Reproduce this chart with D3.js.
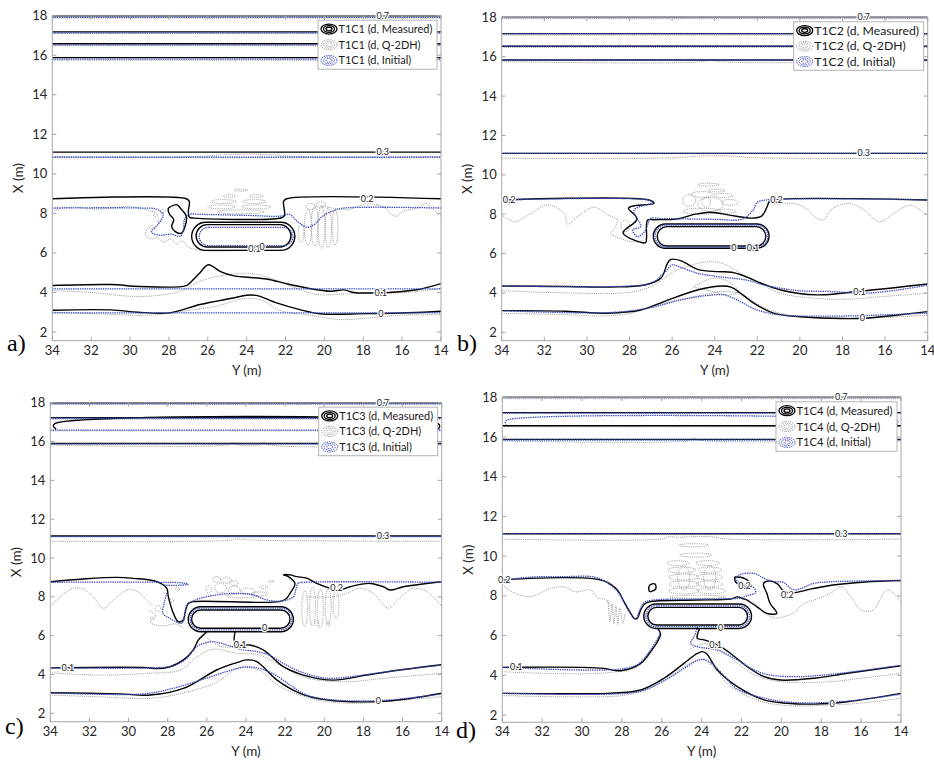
<!DOCTYPE html>
<html>
<head>
<meta charset="utf-8">
<script src="https://cdn.jsdelivr.net/npm/d3@7"></script>
<style>
  body { margin: 0; background: #fff; }
  svg { display: block; }
</style>
</head>
<body>
<script>
// axis ticks and names
const yTicks = [34, 32, 30, 28, 26, 24, 22, 20, 18, 16, 14];
const xTicks = [2, 4, 6, 8, 10, 12, 14, 16, 18];
const caseNames = ['T1C1', 'T1C2', 'T1C3', 'T1C4'];
const panelTags = ['a)', 'b)', 'c)', 'd)'];
const seriesNames = ['Measured', 'Q-2DH', 'Initial'];

// ---- panel a (T1C1) : contour lines as [Y, X] points ----
const measA = [
  [[34, 18], [14, 18]], [[34, 17.18], [14, 17.18]], [[34, 16.58], [14, 16.58]], [[34, 15.88], [14, 15.88]],
  [[34, 11.1], [14, 11.1]],
  [[34, 8.74], [27.1, 8.74], [26.95, 8.6], [27.0, 8.1], [26.95, 7.8], [26.7, 7.76], [22.2, 7.78], [22.05, 7.9], [22.1, 8.6], [21.95, 8.74], [14, 8.74]],
  [[28.03, 8.27], [27.6, 8.44], [27.35, 8.19], [27.1, 7.85], [27.17, 7.34], [27.35, 7.0], [27.69, 7.09], [27.86, 7.34], [27.75, 7.68], [27.95, 7.93], [28.03, 8.1], [28.03, 8.27]],
  [[34, 4.35], [31.0, 4.4], [29.5, 4.3], [27.1, 4.35], [26.83, 4.57], [26.4, 5.0], [25.97, 5.4], [25.37, 5.07], [24.7, 4.85], [22.97, 4.68], [21.77, 4.4], [19.71, 4.06], [19.0, 4.13], [18.5, 4.0], [17.31, 3.98], [15.25, 4.14], [14, 4.45]],
  [[34, 3.1], [31.0, 3.12], [29.6, 3.0], [27.95, 2.97], [26.4, 3.39], [24.69, 3.72], [24.0, 3.86], [23.5, 3.85], [22.46, 3.47], [21.26, 3.13], [20.23, 2.92], [17.83, 2.93], [16.1, 2.96], [14, 3.05]]
];
const initA = [
  [[34, 17.92], [14, 17.92]], [[34, 17.13], [14, 17.13]], [[34, 16.52], [14, 16.52]], [[34, 15.8], [14, 15.8]],
  [[34, 10.84], [14, 10.84]],
  [[34, 8.27], [29.5, 8.27], [28.6, 8.2], [28.3, 7.9], [28.6, 7.4], [28.9, 7.05], [28.5, 6.9], [27.9, 6.95], [27.4, 6.85], [27.25, 7.2], [27.2, 7.7], [27.0, 7.95], [26.5, 7.95], [24, 7.9], [22.3, 7.86], [21.8, 7.95], [21.4, 7.6], [20.9, 7.3], [20.5, 7.45], [20.1, 7.85], [19.5, 8.15], [19.0, 8.27], [14, 8.27]],
  [[34, 4.18], [14, 4.18]],
  [[34, 2.97], [14, 2.97]]
];
const q2dhA = [
  [[34, 17.88], [14, 17.88]], [[34, 17.1], [14, 17.1]], [[34, 16.48], [14, 16.48]], [[34, 15.75], [14, 15.75]],
  [[34, 10.87], [26.5, 10.87], [25.5, 10.95], [24, 11.0], [22.5, 10.95], [21.5, 10.87], [14, 10.87]],
  [[34, 8.1], [33.2, 8.3], [31.5, 8.22], [30, 8.35], [29.2, 8.2], [28.7, 8.05]],
  [[20.2, 8.4], [18.85, 8.19], [17.83, 8.47], [16.97, 8.35], [16.6, 8.0], [16.3, 7.85], [15.95, 8.1], [15.3, 8.25], [14.74, 8.5], [14.4, 8.2], [14, 7.85]],
  [[29.1, 7.25], [29.2, 6.9], [28.9, 6.7], [28.6, 6.8], [28.3, 6.55], [27.9, 6.7], [27.6, 6.45], [27.3, 6.6], [27.0, 6.3], [26.5, 6.15], [25.0, 6.1], [23.5, 6.2]],
  [[34, 4.1], [32, 4.0], [29.8, 3.8], [28.3, 3.88], [27.3, 4.1], [26.3, 4.6], [25.0, 4.9], [23.7, 4.95], [22.7, 4.7], [21.7, 4.3], [20.4, 3.9], [19.5, 3.9], [17.8, 3.97], [16.1, 3.98], [14, 4.2]],
  [[34, 3.0], [31.6, 2.92], [29.0, 2.85], [27.3, 3.05], [25.6, 3.3], [24.0, 3.7], [23.2, 3.6], [22.3, 3.1], [20.4, 2.8], [19.2, 2.63], [17.8, 2.7], [16.1, 2.85], [14, 2.87]]
];
const ringsA = [[26.83, 21.52, 6.13, 7.55, 'meas'], [26.6, 21.72, 6.3, 7.43, 'meas'], [26.44, 21.62, 6.37, 7.29, 'init']];
const blobsA = [
  [24.3, 9.18, 0.35, 0.05], [24.9, 8.88, 0.3, 0.07], [23.5, 8.88, 0.35, 0.07], [25.2, 8.6, 0.65, 0.1], [23.6, 8.6, 0.6, 0.1],
  [25.3, 8.33, 0.7, 0.1], [23.5, 8.33, 0.75, 0.1], [24.3, 8.08, 1.2, 0.1],
  [21.2, 7.0, 0.15, 0.45], [20.85, 7.3, 0.18, 0.9], [20.5, 7.35, 0.18, 1.0], [20.15, 7.3, 0.18, 1.05], [19.8, 7.3, 0.16, 1.0], [19.45, 7.3, 0.15, 0.9],
  [20.7, 8.35, 0.25, 0.15], [20.2, 8.45, 0.25, 0.15],
  [28.5, 7.6, 0.1, 0.08], [28.7, 7.9, 0.1, 0.08], [28.3, 8.1, 0.12, 0.1], [28.9, 7.3, 0.1, 0.1]
];
const labelsA = [['0.7', 17.0, 18.0], ['0.3', 17.0, 11.1], ['0.2', 17.8, 8.74], ['0.1', 17.1, 3.98], ['0', 17.1, 2.93], ['0.1', 23.6, 6.2], ['0', 23.2, 6.33]];

// ---- panel b (T1C2) ----
const measB = [
  [[34, 18], [14, 18]], [[34, 17.17], [14, 17.17]], [[34, 16.53], [14, 16.53]], [[34, 15.83], [14, 15.83]],
  [[34, 11.09], [14, 11.09]],
  [[34, 8.72], [27.1, 8.72], [26.85, 8.55], [27.9, 8.4], [28.05, 8.3], [27.65, 7.75], [28.3, 7.05], [27.25, 6.55], [27.2, 6.8], [27.15, 7.7], [26.8, 7.72], [25.8, 7.75], [24.9, 8.0], [24.2, 8.1], [23.3, 7.95], [22.3, 7.8], [21.8, 7.9], [21.55, 8.35], [21.45, 8.62], [21.3, 8.72], [14, 8.72]],
  [[34, 4.35], [31, 4.33], [28.9, 4.3], [27.3, 4.4], [26.53, 4.74], [26.22, 5.5], [26.06, 5.7], [25.6, 5.64], [24.8, 5.2], [23.87, 5.08], [23.2, 5.05], [22.47, 4.8], [22.0, 4.57], [20.9, 4.15], [19.18, 3.9], [17.3, 4.07], [14, 4.45]],
  [[34, 3.1], [31, 3.07], [29.04, 2.97], [27.47, 3.13], [26.38, 3.56], [24.81, 4.15], [23.64, 4.35], [23.2, 4.28], [22.78, 3.98], [22.15, 3.47], [21.2, 2.96], [20.12, 2.8], [18.55, 2.71], [17.0, 2.71], [15.4, 2.88], [14, 3.05]]
];
const initB = [
  [[34, 17.98], [14, 17.98]], [[34, 17.17], [14, 17.17]], [[34, 16.53], [14, 16.53]], [[34, 15.83], [14, 15.83]],
  [[34, 11.09], [14, 11.09]],
  [[34, 8.72], [27.1, 8.72], [26.9, 8.6], [27.79, 8.2], [27.47, 7.37], [27.86, 7.2], [27.63, 6.86], [27.3, 7.1], [27.1, 7.6], [27.0, 7.79], [26.5, 7.78], [24, 7.74], [22.7, 7.75], [22.2, 8.2], [22.0, 8.6], [21.6, 8.72], [14, 8.72]],
  [[34, 4.35], [28, 4.35], [27.0, 4.49], [26.38, 5.0], [25.99, 5.42], [25.6, 5.3], [24.81, 5.0], [23.56, 4.79], [22.5, 4.65], [21.68, 4.4], [20.12, 4.12], [18.5, 4.07], [16.99, 3.98], [15.4, 4.15], [14, 4.4]],
  [[34, 3.1], [29.0, 3.0], [27.16, 3.22], [25.6, 3.64], [24.5, 3.85], [23.56, 3.9], [22.94, 3.64], [22.0, 3.13], [20.9, 2.88], [18.5, 2.82], [16.2, 2.88], [14, 2.98]]
];
const q2dhB = [
  [[34, 17.93], [14, 17.93]], [[34, 17.1], [14, 17.1]], [[34, 16.47], [14, 16.47]],
  [[34, 15.75], [24.5, 15.75], [24.2, 15.85], [23.8, 15.75], [14, 15.75]],
  [[34, 10.84], [26, 10.86], [24.5, 10.97], [23.2, 10.95], [22, 10.86], [14, 10.84]],
  [[34, 7.96], [33.4, 7.62], [32.64, 8.04], [31.86, 8.47], [31.07, 8.04], [30.9, 7.5], [30.4, 7.9], [29.67, 8.35], [29.0, 7.95], [28.57, 7.71], [28.7, 7.3], [28.88, 7.03], [28.41, 6.77], [27.9, 6.6], [27.4, 6.65]],
  [[21.3, 8.55], [20.1, 8.5], [19.6, 8.2], [19.34, 7.88], [18.87, 7.71], [18.55, 8.21], [17.77, 8.55], [16.99, 8.21], [16.28, 7.62], [15.58, 8.04], [14.8, 8.47], [14, 7.88]],
  [[34, 4.12], [31, 4.0], [28, 4.03], [27.0, 4.32], [26.3, 4.8], [25.75, 5.17], [24.8, 5.5], [24.03, 5.59], [23.4, 5.4], [22.8, 5.0], [22.0, 4.55], [20.9, 3.98], [19.34, 3.73], [17.77, 3.68], [16.2, 3.81], [14, 3.98]],
  [[25.0, 4.3], [24.5, 4.6], [24.0, 4.75], [23.4, 4.6], [22.9, 4.1], [23.3, 3.9], [24.2, 4.1], [25.0, 4.3]],
  [[34, 2.96], [31, 2.9], [29.5, 2.83], [28, 2.95], [27.0, 3.3], [25.75, 3.64], [24.5, 3.9], [23.72, 4.07], [22.8, 3.97], [22.15, 3.56], [21.6, 3.2], [20.12, 2.8], [18.5, 2.72], [16.2, 2.75], [14, 2.88]]
];
const ringsB = [[26.88, 21.45, 6.27, 7.5, 'meas'], [26.7, 21.6, 6.38, 7.37, 'meas'], [26.8, 21.5, 6.33, 7.45, 'init']];
const blobsB = [
  [24.3, 9.5, 0.5, 0.07], [23.9, 9.2, 0.4, 0.07], [24.6, 9.0, 0.5, 0.15], [23.6, 8.95, 0.45, 0.1], [25.2, 8.7, 0.3, 0.3],
  [24.2, 8.5, 0.6, 0.35], [23.3, 8.6, 0.4, 0.15], [24.6, 8.15, 0.9, 0.15], [23.5, 8.15, 0.5, 0.1], [24.4, 8.6, 0.2, 0.25],
  [28.2, 7.4, 0.2, 0.3]
];
const labelsB = [['0.7', 17.0, 18], ['0.3', 17.0, 11.09], ['0.2', 33.65, 8.72], ['0.2', 21.1, 8.72], ['0.1', 17.2, 4.07], ['0', 17.07, 2.71], ['0', 23.1, 6.3], ['0.1', 22.2, 6.27]];

// ---- panel c (T1C3) ----
const measC = [
  [[34, 18], [14, 18]], [[34, 17.23], [14, 17.23]],
  [[14.2, 16.62], [14.1, 16.78], [14.2, 16.94], [33.75, 16.94], [33.85, 16.8], [33.7, 16.64]],
  [[34, 15.9], [14, 15.9]], [[34, 11.13], [14, 11.13]],
  [[34, 8.78], [32.31, 8.92], [30.61, 9.0], [29.76, 8.95], [28.56, 8.78], [28.05, 8.44], [27.97, 8.01], [27.71, 7.15], [27.46, 6.72], [27.2, 6.81], [27.12, 7.15], [26.95, 7.66], [26.7, 7.75], [22.3, 7.75], [21.95, 7.9], [21.75, 8.18], [21.5, 8.69], [21.84, 9.04], [22.09, 9.13], [21.75, 9.13], [21.41, 9.04], [20.9, 8.96], [20.39, 8.69], [19.7, 8.44], [19.2, 8.35], [18.69, 8.52], [17.66, 8.69], [16.98, 8.52], [16.64, 8.35], [15.96, 8.52], [14, 8.78]],
  [[34, 4.34], [29, 4.35], [28.6, 4.3], [27.88, 4.4], [27.2, 4.75], [26.69, 5.27], [26.44, 5.77], [26.18, 6.03], [26.0, 6.2]],
  [[24.56, 6.2], [24.6, 5.77], [24.48, 5.52], [23.8, 5.52], [23.12, 5.27], [22.09, 4.4], [21.07, 3.97], [19.54, 3.71], [17.83, 3.97], [16.13, 4.23], [14, 4.5]],
  [[34, 3.06], [30.5, 3.0], [28.9, 2.94], [27.2, 3.28], [25.5, 4.23], [24.5, 4.6], [23.96, 4.75], [23.45, 4.66], [22.43, 3.72], [21.24, 3.03], [19.88, 2.69], [17.32, 2.6], [15.5, 2.78], [14, 3.03]]
];
const initC = [
  [[34, 17.95], [14, 17.95]], [[34, 17.2], [14, 17.2]], [[34, 16.59], [14, 16.59]], [[34, 15.88], [14, 15.88]],
  [[34, 11.1], [14, 11.1]],
  [[34, 8.75], [28.4, 8.75], [27.3, 8.72], [26.95, 8.65], [27.3, 8.6], [28.2, 8.6]],
  [[28.05, 8.2], [28.2, 7.6], [28.25, 7.15], [27.9, 6.9], [27.29, 6.63], [27.15, 6.9], [27.1, 7.3], [27.0, 7.6], [26.35, 7.92], [24.65, 8.18], [23.63, 8.09], [22.94, 7.84], [22.2, 7.78], [21.58, 8.0], [21.45, 8.4], [21.33, 8.7], [21.0, 8.75], [14, 8.75]],
  [[34, 4.34], [28.6, 4.35], [27.7, 4.45], [27.03, 4.83], [26.52, 5.43], [26.18, 5.6], [25.67, 5.69], [24.99, 5.52], [24.31, 5.3], [23.45, 5.18], [22.8, 5.0], [22.09, 4.57], [21.24, 4.15], [20.2, 3.85], [19.54, 3.8], [17.8, 4.0], [16, 4.25], [14, 4.48]],
  [[34, 3.06], [29.25, 3.0], [27.71, 3.29], [26.3, 3.72], [24.99, 4.15], [24.14, 4.37], [23.5, 4.35], [22.6, 4.03], [21.75, 3.46], [20.9, 2.94], [19.54, 2.69], [17.3, 2.65], [15.5, 2.8], [14, 3.0]]
];
const q2dhC = [
  [[34, 17.9], [14, 17.9]], [[34, 17.15], [14, 17.15]], [[34, 16.55], [14, 16.55]],
  [[34, 15.82], [25, 15.82], [24.6, 15.95], [24.3, 15.82], [23.3, 15.82], [23.1, 15.97], [22.8, 15.82], [14, 15.82]],
  [[34, 10.86], [25, 10.9], [24.5, 10.98], [23.5, 10.92], [14, 10.86]],
  [[34, 7.49], [33.5, 8.0], [32.82, 8.44], [32.3, 8.4], [31.8, 8.0], [31.29, 7.41], [30.8, 7.8], [30.1, 8.35], [29.6, 8.3], [29.08, 7.84], [28.8, 7.55]],
  [[20.9, 8.0], [19.54, 8.0], [18.86, 8.18], [18.17, 8.44], [17.49, 8.18], [16.72, 7.41], [16.2, 7.9], [15.45, 8.44], [14.8, 8.3], [14, 7.52]],
  [[29.0, 7.3], [28.6, 7.0], [28.9, 6.7], [28.3, 6.5], [27.6, 6.6], [27.2, 6.4]],
  [[26.0, 5.9], [25.6, 5.6], [25.0, 5.4], [24.4, 5.6], [24.0, 5.8]],
  [[34, 4.09], [31.5, 3.97], [29.0, 4.06], [27.37, 4.23], [26.5, 4.9], [25.7, 5.3], [24.5, 5.1], [23.3, 5.0], [22.3, 4.5], [21.3, 3.97], [20.39, 3.72], [18.68, 3.63], [16.98, 3.8], [14, 4.06]],
  [[34, 2.94], [31.5, 2.85], [28.9, 2.77], [27.2, 3.05], [25.5, 3.6], [24.5, 4.3], [24.0, 4.4], [23.3, 4.2], [22.3, 3.4], [20.39, 2.69], [18.68, 2.52], [16.98, 2.6], [14, 2.86]]
];
const ringsC = [[26.95, 21.58, 6.2, 7.49, 'meas'], [26.78, 21.75, 6.38, 7.32, 'meas'], [26.85, 21.65, 6.3, 7.42, 'init']];
const blobsC = [
  [25.5, 8.9, 0.2, 0.15], [25.0, 8.85, 0.25, 0.15], [24.6, 8.7, 0.2, 0.12], [25.3, 8.45, 0.3, 0.25], [24.6, 8.35, 0.3, 0.2],
  [23.9, 8.3, 0.35, 0.15], [23.1, 8.5, 0.2, 0.08], [23.3, 8.15, 0.4, 0.1], [25.9, 8.4, 0.15, 0.2], [22.7, 8.8, 0.15, 0.05], [24.2, 8.05, 0.8, 0.1],
  [21.0, 7.4, 0.15, 0.9], [20.6, 7.5, 0.15, 1.0], [20.2, 7.4, 0.15, 1.0], [19.8, 7.5, 0.15, 0.9], [19.4, 7.6, 0.15, 0.7], [20.4, 6.65, 0.08, 0.15], [19.8, 6.6, 0.08, 0.12],
  [28.5, 7.4, 0.15, 0.15], [27.8, 7.8, 0.1, 0.1], [28.8, 6.9, 0.08, 0.08], [27.5, 8.4, 0.1, 0.1]
];
const labelsC = [['0.7', 17.0, 18], ['0.3', 17.0, 11.13], ['0.2', 19.37, 8.45], ['0.1', 33.1, 4.35], ['0.1', 24.3, 5.52], ['0', 17.24, 2.62], ['0', 23.05, 6.4]];

// ---- panel d (T1C4) ----
const measD = [
  [[34, 18], [14, 18]], [[34, 17.23], [14, 17.23]], [[34, 16.57], [14, 16.57]], [[34, 15.88], [14, 15.88]],
  [[34, 11.13], [14, 11.13]],
  [[34, 8.8], [32.6, 8.88], [30.9, 8.92], [29.57, 8.88], [28.9, 8.75], [28.23, 8.3], [27.9, 7.71], [27.56, 7.12], [27.39, 6.87], [27.23, 6.87], [27.06, 7.29], [26.85, 7.6], [26.5, 7.72], [24.22, 7.79], [22.55, 7.84], [22.2, 7.95], [21.9, 7.85], [21.74, 7.8], [21.24, 7.46], [20.73, 7.12], [20.23, 7.12], [20.57, 7.63], [20.73, 8.13], [20.9, 8.6], [20.65, 8.75], [20.2, 8.6], [19.9, 8.25], [19.57, 8.13], [18.5, 8.35], [17.4, 8.55], [15.8, 8.7], [14, 8.77]],
  [[22.35, 8.95], [21.9, 8.9], [21.55, 8.6], [21.6, 8.35], [21.9, 8.5], [22.3, 8.7], [22.35, 8.95]],
  [[26.6, 8.2], [26.3, 8.35], [26.35, 8.6], [26.6, 8.55], [26.65, 8.3], [26.6, 8.2]],
  [[34, 4.4], [30, 4.4], [28.9, 4.35], [28.06, 4.23], [27.06, 4.6], [26.56, 5.19], [26.22, 5.69], [26.06, 6.08], [26.2, 6.36]],
  [[24.1, 6.36], [24.2, 6.1], [24.22, 5.86], [23.88, 5.78], [23.21, 5.53], [22.55, 5.1], [21.71, 4.43], [20.87, 3.93], [20.04, 3.76], [18.36, 3.85], [16.69, 4.1], [14, 4.48]],
  [[34, 3.09], [30.9, 3.07], [28.73, 3.09], [27.06, 3.26], [25.89, 3.85], [24.89, 4.6], [24.22, 5.1], [23.97, 5.19], [23.75, 5.08], [23.21, 4.27], [22.21, 3.43], [20.87, 2.76], [19.7, 2.59], [18.36, 2.55], [16.69, 2.67], [14, 3.09]]
];
const initD = [
  [[34, 17.98], [14, 17.98]], [[34, 17.2], [14, 17.2]],
  [[14.2, 16.62], [14.15, 16.8], [14.3, 16.86], [33.75, 16.86], [33.85, 16.75], [33.8, 16.62]],
  [[34, 15.85], [14, 15.85]], [[34, 11.13], [14, 11.13]],
  [[34, 8.8], [32.5, 8.95], [30.9, 8.97], [29.4, 8.95], [28.8, 8.7], [28.2, 8.2], [27.8, 7.5], [27.5, 7.0], [27.3, 6.85], [27.1, 7.3], [26.9, 7.65], [26.5, 7.78], [24, 7.84], [22.5, 7.86], [22.0, 7.9], [21.6, 8.05], [21.3, 8.13], [21.37, 8.4], [21.9, 8.6], [22.3, 8.85], [22.13, 9.05], [21.37, 9.13], [20.87, 8.88], [20.37, 8.72], [19.9, 8.68], [19.37, 8.3], [18.36, 8.63], [17.53, 8.71], [14, 8.77]],
  [[34, 4.4], [28.2, 4.3], [27.2, 4.55], [26.7, 5.1], [26.3, 5.7], [26.1, 6.1], [26.25, 6.4]],
  [[24.2, 6.45], [24.38, 5.95], [24.55, 5.61], [24.22, 5.44], [23.21, 5.27], [22.21, 4.77], [21.37, 4.27], [20.54, 4.01], [19.2, 3.93], [17.5, 4.05], [14, 4.5]],
  [[34, 3.09], [28.7, 3.05], [27.06, 3.2], [25.89, 3.72], [24.8, 4.4], [24.2, 4.75], [23.88, 4.8], [23.5, 4.6], [22.9, 4.0], [22.21, 3.3], [20.87, 2.85], [19.7, 2.65], [18.0, 2.62], [16.2, 2.75], [14, 3.05]]
];
const q2dhD = [
  [[34, 17.93], [14, 17.93]], [[34, 16.52], [14, 16.52]],
  [[34, 15.8], [24.7, 15.8], [24.4, 15.9], [23.8, 15.8], [14, 15.8]],
  [[34, 10.86], [26, 10.87], [25.6, 11.0], [25.3, 10.95], [24.5, 10.98], [23.5, 10.98], [22.8, 10.87], [14, 10.86]],
  [[34, 8.55], [33.4, 8.15], [32.58, 7.96], [31.58, 8.38], [30.9, 8.45], [30.3, 8.2], [29.6, 8.3], [29.2, 7.9], [28.8, 7.8], [28.6, 7.5]],
  [[28.7, 7.8], [28.6, 6.7], [28.5, 7.6], [28.4, 6.6], [28.3, 7.5], [28.2, 6.55], [28.1, 7.4], [27.95, 6.6], [27.85, 7.1]],
  [[21.5, 7.8], [21.0, 7.3], [20.4, 6.9], [19.87, 6.95], [19.3, 7.2], [18.9, 7.6], [18.36, 7.79], [17.53, 8.13], [17.0, 8.46], [16.52, 7.96], [16.0, 7.29], [15.4, 7.29], [14.69, 8.3], [14, 7.71]],
  [[34, 4.18], [31, 4.08], [28.5, 4.15], [27.3, 4.4], [26.7, 4.9], [26.3, 5.6]],
  [[24.6, 5.3], [23.8, 5.6], [23.0, 5.2], [22.2, 4.6], [21.3, 4.0], [20.04, 3.68], [17.5, 3.68], [16.0, 3.85], [14, 4.1]],
  [[34, 2.98], [31, 2.92], [28, 2.98], [26.7, 3.3], [25.6, 3.95], [24.6, 4.6], [24.0, 4.8], [23.5, 4.5], [22.5, 3.4], [21.2, 2.75], [20.04, 2.5], [17.5, 2.5], [15.5, 2.65], [14, 2.85]]
];
const ringsD = [[26.9, 21.5, 6.36, 7.59, 'meas'], [26.7, 21.7, 6.53, 7.42, 'meas'], [26.8, 21.6, 6.45, 7.5, 'init']];
const blobsD = [
  [24.4, 10.55, 0.75, 0.08], [24.3, 10.05, 0.8, 0.1], [25.2, 9.65, 0.55, 0.12], [23.7, 9.65, 0.6, 0.12],
  [25.0, 9.3, 0.7, 0.15], [23.6, 9.3, 0.6, 0.15], [24.9, 8.95, 0.75, 0.15], [23.6, 8.95, 0.65, 0.15],
  [24.9, 8.6, 0.75, 0.15], [23.6, 8.6, 0.65, 0.15], [24.9, 8.25, 0.75, 0.15], [23.5, 8.25, 0.7, 0.15], [24.2, 7.95, 1.4, 0.08],
  [24.9, 8.9, 0.3, 0.6], [23.6, 8.9, 0.3, 0.6]
];
const labelsD = [['0.7', 17.0, 18], ['0.3', 17.0, 11.13], ['0.2', 33.9, 8.82], ['0.2', 21.85, 8.5], ['0.2', 19.7, 8.06], ['0.1', 33.3, 4.4], ['0.1', 23.3, 5.55], ['0', 17.45, 2.55], ['0', 23.05, 6.4]];

// ---- layout (pixel frames of the four panels) ----
const frames = [
  { l: 52.3, r: 441, t: 15.7, x2: 332, b: 340.7, tagX: 7, tagY: 351, legW: 119, legH: 49 },
  { l: 501.7, r: 927.7, t: 17.3, x2: 332.3, b: 340.7, tagX: 457, tagY: 351, legW: 130, legH: 48.5 },
  { l: 50.3, r: 441.7, t: 402.7, x2: 713.3, b: 721.7, tagX: 5, tagY: 734, legW: 119, legH: 48.5 },
  { l: 502.3, r: 901, t: 397.3, x2: 715, b: 722.3, tagX: 456, tagY: 738, legW: 121, legH: 49.5 }
];
const panelData = [
  [measA, initA, q2dhA, ringsA, blobsA, labelsA],
  [measB, initB, q2dhB, ringsB, blobsB, labelsB],
  [measC, initC, q2dhC, ringsC, blobsC, labelsC],
  [measD, initD, q2dhD, ringsD, blobsD, labelsD]
];

const style = {
  meas: { stroke: '#000', width: 1.4, dash: null },
  init: { stroke: '#3b4cc0', width: 1.3, dash: '1.4,0.9' },
  q2dh: { stroke: '#8c8c8c', width: 0.9, dash: '1,1.1' }
};
const tickFont = 'Lato, "Open Sans", sans-serif';

const svg = d3.select('body').append('svg').attr('width', 934).attr('height', 761);

panelData.forEach(([meas, init, q2dh, rings, blobs, labels], i) => {
  const f = frames[i];
  const yS = d3.scaleLinear().domain([34, 14]).range([f.l, f.r]);
  const xS = d3.scaleLinear().domain([2, 18]).range([f.x2, f.t]);
  const g = svg.append('g');

  const clipId = 'clip' + i;
  g.append('clipPath').attr('id', clipId)
    .append('rect').attr('x', f.l).attr('y', f.t - 1).attr('width', f.r - f.l).attr('height', f.b - f.t + 1);

  const plot = g.append('g').attr('clip-path', `url(#${clipId})`);
  const line = d3.line().x((d) => yS(d[0])).y((d) => xS(d[1])).curve(d3.curveCatmullRom.alpha(0.5));

  const drawLines = (data, key) => {
    const s = style[key];
    plot.append('g').selectAll('path').data(data).enter().append('path')
      .attr('d', line)
      .attr('fill', 'none')
      .attr('stroke', s.stroke)
      .attr('stroke-width', s.width)
      .attr('stroke-dasharray', s.dash);
  };

  // Q-2DH first (gray, underneath), with its small closed loops
  drawLines(q2dh, 'q2dh');
  plot.append('g').selectAll('ellipse').data(blobs).enter().append('ellipse')
    .attr('cx', (d) => yS(d[0]))
    .attr('cy', (d) => xS(d[1]))
    .attr('rx', (d) => Math.abs(yS(d[0] + d[2]) - yS(d[0])))
    .attr('ry', (d) => Math.abs(xS(d[1] + d[3]) - xS(d[1])))
    .attr('fill', 'none')
    .attr('stroke', style.q2dh.stroke)
    .attr('stroke-width', style.q2dh.width)
    .attr('stroke-dasharray', style.q2dh.dash);

  drawLines(meas, 'meas');
  drawLines(init, 'init');

  // rounded contours around the structure
  plot.append('g').selectAll('rect').data(rings).enter().append('rect')
    .attr('x', (d) => yS(d[0]))
    .attr('width', (d) => yS(d[1]) - yS(d[0]))
    .attr('y', (d) => xS(d[3]))
    .attr('height', (d) => xS(d[2]) - xS(d[3]))
    .attr('rx', (d) => (xS(d[2]) - xS(d[3])) / 2)
    .attr('fill', 'none')
    .attr('stroke', (d) => style[d[4]].stroke)
    .attr('stroke-width', (d) => style[d[4]].width)
    .attr('stroke-dasharray', (d) => style[d[4]].dash);

  // frame and inward ticks (box on)
  g.append('rect').attr('x', f.l).attr('y', f.t).attr('width', f.r - f.l).attr('height', f.b - f.t)
    .attr('fill', 'none').attr('stroke', '#a6a6a6').attr('stroke-width', 1);
  const tk = g.append('g').attr('stroke', '#a6a6a6').attr('stroke-width', 1);
  yTicks.forEach((t) => {
    tk.append('line').attr('x1', yS(t)).attr('x2', yS(t)).attr('y1', f.b).attr('y2', f.b - 4);
    tk.append('line').attr('x1', yS(t)).attr('x2', yS(t)).attr('y1', f.t).attr('y2', f.t + 4);
  });
  xTicks.forEach((t) => {
    tk.append('line').attr('x1', f.l).attr('x2', f.l + 4).attr('y1', xS(t)).attr('y2', xS(t));
    tk.append('line').attr('x1', f.r).attr('x2', f.r - 4).attr('y1', xS(t)).attr('y2', xS(t));
  });

  // inline contour labels (not clipped, so the 0.7 on the top edge shows)
  g.append('g').selectAll('text').data(labels).enter().append('text')
    .attr('x', (d) => yS(d[1]))
    .attr('y', (d) => xS(d[2]))
    .attr('dy', '0.35em')
    .attr('text-anchor', 'middle')
    .style('font-family', tickFont)
    .style('font-size', '9px')
    .style('paint-order', 'stroke')
    .attr('stroke', '#fff')
    .attr('stroke-width', 2.5)
    .attr('fill', '#222')
    .text((d) => d[0]);

  g.append('g').selectAll('text').data(yTicks).enter().append('text')
    .attr('x', (d) => yS(d)).attr('y', f.b + 14)
    .attr('text-anchor', 'middle')
    .style('font-family', tickFont).style('font-size', '13px').attr('fill', '#262626')
    .text((d) => d);
  g.append('g').selectAll('text').data(xTicks).enter().append('text')
    .attr('x', f.l - 5).attr('y', (d) => xS(d)).attr('dy', '0.35em')
    .attr('text-anchor', 'end')
    .style('font-family', tickFont).style('font-size', '13px').attr('fill', '#262626')
    .text((d) => d);

  g.append('text')
    .attr('x', (f.l + f.r) / 2).attr('y', f.b + 34)
    .attr('text-anchor', 'middle')
    .style('font-family', tickFont).style('font-size', '13.5px').attr('fill', '#262626')
    .text('Y (m)');
  g.append('text')
    .attr('transform', `translate(${f.l - 25},${(f.t + f.b) / 2}) rotate(-90)`)
    .attr('dy', '-0.35em')
    .attr('text-anchor', 'middle')
    .style('font-family', tickFont).style('font-size', '13.5px').attr('fill', '#262626')
    .text('X (m)');

  g.append('text')
    .attr('x', f.tagX).attr('y', f.tagY)
    .style('font-family', '"Liberation Serif", "DejaVu Serif", serif').style('font-size', '24px').attr('fill', '#000')
    .text(panelTags[i]);

  // legend: font sized so the longest entry fills the box like the original
  const leg = g.append('g');
  const texts = seriesNames.map((s) => `${caseNames[i]} (d, ${s})`);
  const probe = leg.append('text').style('font-family', tickFont).style('font-size', '12px').text(texts[0]);
  const fs = 12 * (f.legW - 25) / probe.node().getComputedTextLength();
  probe.remove();
  const lx = f.r - 4 - f.legW;
  const ly = f.t + 4.5;
  const rowH = (f.legH - 2) / 3;
  leg.append('rect').attr('x', lx).attr('y', ly).attr('width', f.legW).attr('height', f.legH)
    .attr('fill', '#fff').attr('stroke', '#b4b4b4').attr('stroke-width', 1);
  ['meas', 'q2dh', 'init'].forEach((key, k) => {
    const cy = ly + 1 + rowH * (k + 0.5);
    const cx = lx + 11;
    const s = style[key];
    [[8, 5], [5.5, 3.4], [3, 1.8]].forEach(([rx, ry]) => {
      leg.append('ellipse').attr('cx', cx).attr('cy', cy).attr('rx', rx).attr('ry', ry)
        .attr('fill', 'none').attr('stroke', s.stroke)
        .attr('stroke-width', key === 'meas' ? 1.3 : 1)
        .attr('stroke-dasharray', s.dash);
    });
    leg.append('text').attr('x', lx + 20.5).attr('y', cy).attr('dy', '0.36em')
      .style('font-family', tickFont).style('font-size', fs + 'px').attr('fill', '#1a1a1a')
      .text(texts[k]);
  });
});
</script>
</body>
</html>
